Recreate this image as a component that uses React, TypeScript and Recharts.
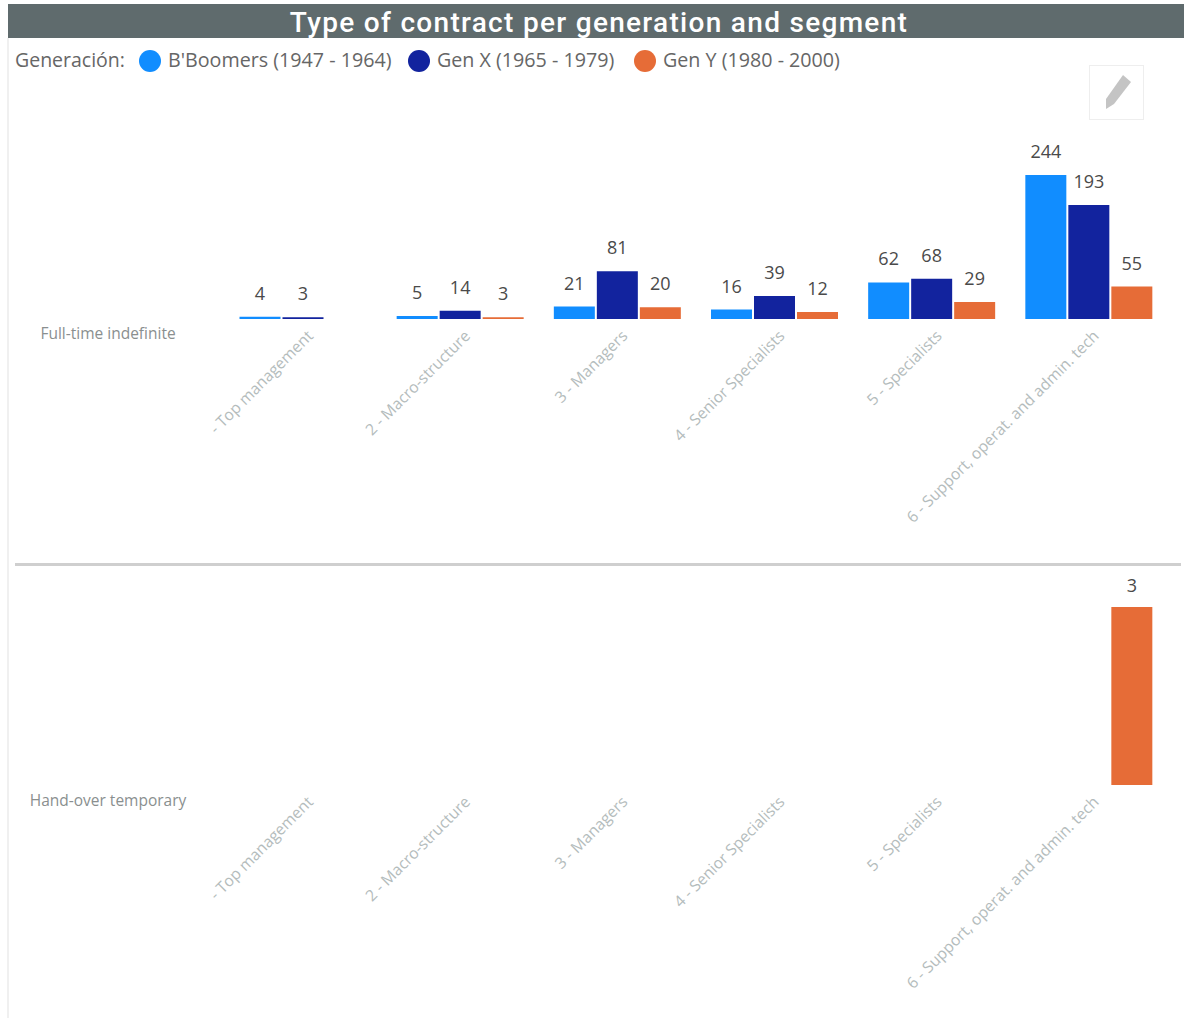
import React from "react";
import { BarChart, Bar, XAxis, YAxis, LabelList } from "recharts";

const segments = [
  "- Top management",
  "2 - Macro-structure",
  "3 - Managers",
  "4 - Senior Specialists",
  "5 - Specialists",
  "6 - Support, operat. and admin. tech",
];

const seriesNames = ["B'Boomers (1947 - 1964)", "Gen X (1965 - 1979)", "Gen Y (1980 - 2000)"];
const seriesColors = ["#118DFF", "#12239E", "#E66C37"];

const fullTimeBoomers = [4, 5, 21, 16, 62, 244];
const fullTimeGenX = [3, 14, 81, 39, 68, 193];
const fullTimeGenY = [null, 3, 20, 12, 29, 55];

const handOverBoomers = [null, null, null, null, null, null];
const handOverGenX = [null, null, null, null, null, null];
const handOverGenY = [null, null, null, null, null, 3];

const legendX = [
  { dot: 150, text: 168 },
  { dot: 419, text: 437 },
  { dot: 645, text: 663 },
];

const uiFont = "'Open Sans', sans-serif";

function buildRows(a: (number | null)[], b: (number | null)[], c: (number | null)[]) {
  return segments.map((segment, i) => ({ segment, s0: a[i], s1: b[i], s2: c[i] }));
}

const fullTimeRows = buildRows(fullTimeBoomers, fullTimeGenX, fullTimeGenY);
const handOverRows = buildRows(handOverBoomers, handOverGenX, handOverGenY);

// slanted category label, anchored at its upper right end
function SlantedTick({ x, y, payload }: any) {
  return (
    <g transform={`translate(${x + 11},${y + 10})`}>
      <text
        transform="rotate(-45)"
        textAnchor="end"
        fontFamily={uiFont}
        fontSize={15.7}
        fill="#b4bcbc"
      >
        {payload.value}
      </text>
    </g>
  );
}

function SmallMultiple({ rows, max, height, top, axisHeight, labelOffset }: any) {
  return (
    <BarChart
      width={1184}
      height={height}
      data={rows}
      margin={{ top, right: 16.5, bottom: 0, left: 224.5 }}
      barCategoryGap={15}
      barGap={2}
    >
      <XAxis
        dataKey="segment"
        height={axisHeight}
        axisLine={false}
        tickLine={false}
        interval={0}
        tick={<SlantedTick />}
      />
      <YAxis hide domain={[0, max]} />
      {seriesNames.map((name, i) => (
        <Bar key={name} dataKey={`s${i}`} name={name} fill={seriesColors[i]} isAnimationActive={false}>
          <LabelList
            dataKey={`s${i}`}
            position="top"
            offset={labelOffset}
            fontFamily={uiFont}
            fontSize={18}
            fill="#4a4a4a"
          />
        </Bar>
      ))}
    </BarChart>
  );
}

export default function App() {
  return (
    <div style={{ position: "absolute", left: 0, top: 0, width: 1184, height: 1018, background: "#fff", overflow: "hidden" }}>
      {/* left edge of the visual */}
      <div style={{ position: "absolute", left: 7, top: 38, width: 2, height: 980, background: "#f0f0f0" }} />

      <div
        style={{
          position: "absolute",
          left: 8,
          top: 4,
          width: 1176,
          height: 34,
          background: "#5f6b6d",
          color: "#fff",
          textAlign: "center",
          fontFamily: "Roboto, sans-serif",
          fontWeight: 500,
          fontSize: 28,
          lineHeight: "37px",
          letterSpacing: 1.3,
          whiteSpace: "nowrap",
          textIndent: 6,
        }}
      >
        Type of contract per generation and segment
      </div>

      {/* legend */}
      <div style={{ position: "absolute", left: 15, top: 47, fontFamily: uiFont, fontSize: 19.5, lineHeight: "26px", color: "#666" }}>
        Generación:
      </div>
      {seriesNames.map((name, i) => (
        <React.Fragment key={name}>
          <div
            style={{
              position: "absolute",
              left: legendX[i].dot - 11,
              top: 50,
              width: 22,
              height: 22,
              borderRadius: "50%",
              background: seriesColors[i],
            }}
          />
          <div
            style={{
              position: "absolute",
              left: legendX[i].text,
              top: 47,
              fontFamily: uiFont,
              fontSize: 19.7,
              lineHeight: "26px",
              color: "#666",
              whiteSpace: "nowrap",
            }}
          >
            {name}
          </div>
        </React.Fragment>
      ))}

      {/* edit button */}
      <div style={{ position: "absolute", left: 1089, top: 65, width: 53, height: 53, border: "1px solid #eeeeee" }}>
        <svg width={53} height={53} viewBox="0 0 53 53">
          <path d="M33 9 L41 16 L24 38 L16 43 L16 33 Z" fill="#c4c4c4" />
        </svg>
      </div>

      <div style={{ position: "absolute", left: 0, top: 0 }}>
        <SmallMultiple rows={fullTimeRows} max={244} height={560} top={175} axisHeight={241} labelOffset={17} />
      </div>
      <div style={{ position: "absolute", left: 0, top: 565 }}>
        <SmallMultiple rows={handOverRows} max={3} height={453} top={42} axisHeight={233} labelOffset={15.5} />
      </div>

      {/* row headers and divider */}
      <div style={{ position: "absolute", left: 15, top: 563, width: 1166, height: 2.5, background: "#cfcfcf" }} />
      <div style={{ position: "absolute", left: 8, width: 200, top: 322, textAlign: "center", fontFamily: uiFont, fontSize: 15.5, lineHeight: "22px", color: "#8a8f8f" }}>
        Full-time indefinite
      </div>
      <div style={{ position: "absolute", left: 8, width: 200, top: 789, textAlign: "center", fontFamily: uiFont, fontSize: 15.5, lineHeight: "22px", color: "#8a8f8f" }}>
        Hand-over temporary
      </div>
    </div>
  );
}
